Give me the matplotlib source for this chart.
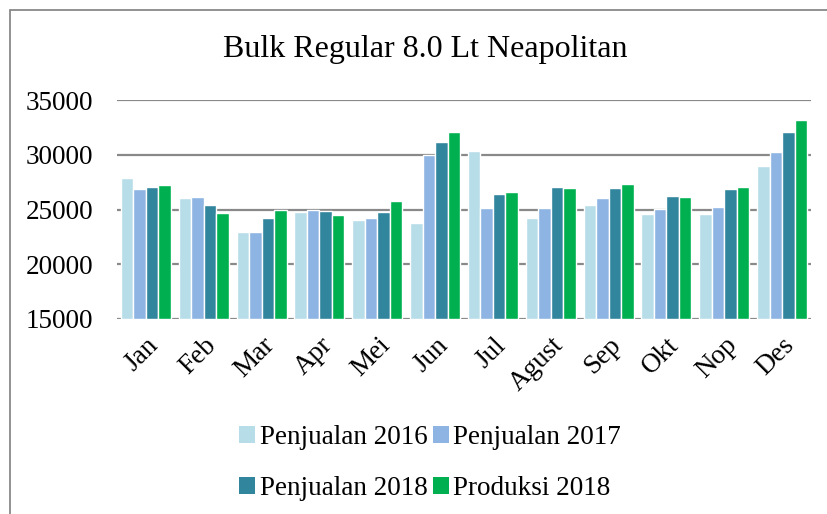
import matplotlib
matplotlib.use("Agg")
import matplotlib.pyplot as plt
import numpy as np
from matplotlib.patches import Rectangle, Patch

months = ["Jan", "Feb", "Mar", "Apr", "Mei", "Jun", "Jul", "Agust", "Sep", "Okt", "Nop", "Des"]
penjualan_2016 = [27880, 26050, 22980, 24770, 24010, 23770, 30370, 24220, 25410, 24620, 24590, 29000]
penjualan_2017 = [26870, 26110, 22980, 24980, 24190, 30010, 25170, 25110, 26020, 25050, 25260, 30280]
penjualan_2018 = [27020, 25440, 24220, 24890, 24800, 31130, 26450, 27050, 26990, 26200, 26870, 32110]
produksi_2018 = [27240, 24710, 24980, 24530, 25810, 32080, 26630, 26960, 27300, 26110, 27090, 33140]
series_names = ["Penjualan 2016", "Penjualan 2017", "Penjualan 2018", "Produksi 2018"]
yticks = [15000, 20000, 25000, 30000, 35000]

colors = ["#B7DDE8", "#8DB4E2", "#31859C", "#00B050"]
plt.rcParams['font.family'] = ['Liberation Serif', 'DejaVu Serif']

fig = plt.figure(figsize=(8.27, 5.14), dpi=100)
W, H = 827, 514
ax = fig.add_axes([117 / W, 1 - 319 / H, (811 - 117) / W, (319 - 100) / H])

x = np.arange(len(months))
data = [penjualan_2016, penjualan_2017, penjualan_2018, produksi_2018]
bw = 0.216
for i, (vals, c, name) in enumerate(zip(data, colors, series_names)):
    ax.bar(x + (i - 1.5) * bw, np.array(vals) - 15000, bottom=15000, width=bw,
           color=c, edgecolor="white", linewidth=1.0, label=name, zorder=3)

ax.set_ylim(15000, 35000)
ax.set_xlim(-0.5, len(months) - 0.5)
ax.set_yticks(yticks)
ax.set_yticklabels([str(v) for v in yticks], fontsize=19.5)
ax.yaxis.grid(True, color="#898989", linewidth=1.6, zorder=1)
ax.set_axisbelow(True)
for s in ["top", "right", "left", "bottom"]:
    ax.spines[s].set_visible(False)
ax.tick_params(axis="y", length=0, pad=17)
ax.tick_params(axis="x", length=0, pad=10)
ax.set_xticks(x)
ax.set_xticklabels(months, rotation=45, ha="right", rotation_mode="anchor", fontsize=19.5)

fig.text(425 / W, 1 - 50 / H, "Bulk Regular 8.0 Lt Neapolitan", ha="center", va="center", fontsize=23)

handles = [Patch(facecolor=c, edgecolor="none") for c in colors]
order = [0, 2, 1, 3]
fig.legend([handles[i] for i in order], [series_names[i] for i in order], loc="center",
           bbox_to_anchor=(430 / W, 1 - 463 / H), ncol=2,
           frameon=False, fontsize=19.5, handlelength=0.6, handleheight=0.6, handletextpad=0.15,
           columnspacing=0.2, labelspacing=0.95)

fig.patches.append(Rectangle((10 / W, -0.02), 1.05, 1 - 10 / H + 0.02, transform=fig.transFigure,
                             fill=False, edgecolor="#7f7f7f", linewidth=1.2))

fig.savefig("out.png", dpi=100)
